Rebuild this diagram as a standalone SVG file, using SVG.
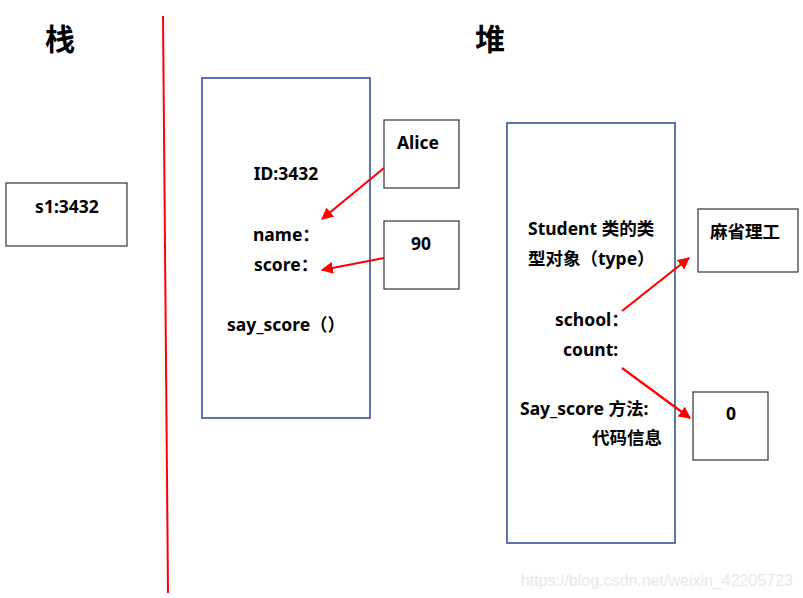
<svg xmlns="http://www.w3.org/2000/svg" width="803" height="598" viewBox="0 0 803 598">
<style>
text{font-family:"Noto Sans","Noto Sans CJK SC",sans-serif;font-weight:bold;fill:#000}
.t{font-size:17.5px}
.h{font-size:30px}
.box{fill:#fff;stroke:#333;stroke-width:1.2}
.big{fill:#fff;stroke:#4a68a6;stroke-width:1.8}
.arr{stroke:#f00;stroke-width:2.2;fill:none;marker-end:url(#ah)}
</style>
<defs>
<marker id="ah" viewBox="0 0 10 10" refX="9" refY="5" markerWidth="5.5" markerHeight="5.5" orient="auto" markerUnits="strokeWidth">
<path d="M0,0 L10,5 L0,10 z" fill="#f00"/>
</marker>
</defs>
<rect width="803" height="598" fill="#fff"/>
<text class="h" x="60" y="50" text-anchor="middle">栈</text>
<text class="h" x="490" y="50" text-anchor="middle">堆</text>
<line x1="163" y1="16" x2="168" y2="593" stroke="#f00" stroke-width="2"/>
<g id="s1">
<rect class="box" x="6" y="183" width="121" height="63"/>
<text class="t" x="67" y="213" text-anchor="middle">s1:3432</text>
</g>
<g id="instance">
<rect class="big" x="202" y="78" width="168" height="340"/>
<text class="t" x="286" y="180" text-anchor="middle">ID:3432</text>
<text class="t" x="253" y="241">name：</text>
<text class="t" x="254" y="271">score：</text>
<text class="t" x="227" y="331">say_score（）</text>
</g>
<g id="alice">
<rect class="box" x="384" y="120" width="75" height="68"/>
<text class="t" x="418" y="149" text-anchor="middle">Alice</text>
</g>
<g id="n90">
<rect class="box" x="384" y="221" width="75" height="68"/>
<text class="t" x="421" y="250" text-anchor="middle">90</text>
</g>
<g id="classobj">
<rect class="big" x="507" y="123" width="168" height="420"/>
<text class="t" x="528" y="235">Student 类的类</text>
<text class="t" x="528" y="265">型对象（type）</text>
<text class="t" x="555" y="326">school：</text>
<text class="t" x="563" y="356">count:</text>
<text class="t" x="520" y="415">Say_score 方法:</text>
<text class="t" x="592" y="444">代码信息</text>
</g>
<g id="mit">
<rect class="box" x="698" y="209" width="100" height="63"/>
<text class="t" x="745" y="238" text-anchor="middle">麻省理工</text>
</g>
<g id="zero">
<rect class="box" x="693" y="392" width="75" height="68"/>
<text class="t" x="731" y="420" text-anchor="middle">0</text>
</g>
<g id="connectors">
<line class="arr" x1="384" y1="168" x2="322" y2="219"/>
<line class="arr" x1="384" y1="258" x2="322" y2="270"/>
<line class="arr" x1="622" y1="311" x2="689" y2="258"/>
<line class="arr" x1="622" y1="368" x2="690" y2="418"/>
</g>
<text x="793" y="586" text-anchor="end" style="font-family:'Liberation Sans',sans-serif;font-weight:normal;font-size:16px;fill:#e8e8e8">https://blog.csdn.net/weixin_42205723</text>
</svg>
